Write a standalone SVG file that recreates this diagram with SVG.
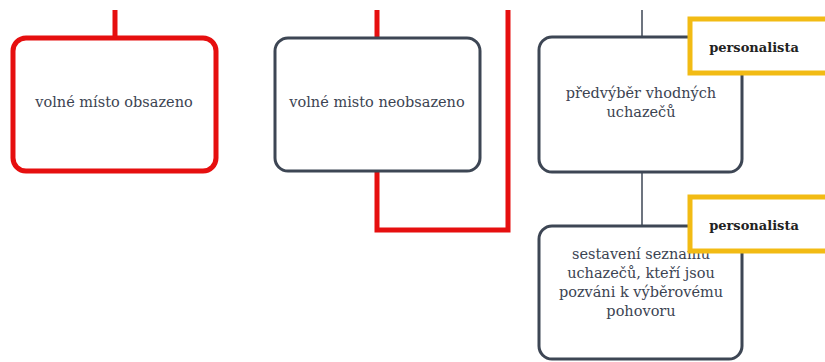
<svg xmlns="http://www.w3.org/2000/svg" width="825" height="362" viewBox="0 0 825 362">
<style>
.node{fill:#fff;stroke:#3d4654;stroke-width:3}
.red{fill:#fff;stroke:#e60f0f;stroke-width:5}
.t{font-family:"DejaVu Serif","Liberation Serif",serif;font-size:14.5px;fill:#3c4452;text-anchor:middle}
.lab{fill:#fff;stroke:#f2bb14;stroke-width:5}
.lt{font-family:"DejaVu Serif","Liberation Serif",serif;font-size:13px;font-weight:bold;fill:#222;text-anchor:middle}
.rl{fill:none;stroke:#e60f0f;stroke-width:5}
.gl{fill:none;stroke:#3d4654;stroke-width:1.5}
</style>
<rect width="825" height="362" fill="#fff"/>
<g id="connectors">
<line class="rl" x1="115" y1="10" x2="115" y2="38"/>
<line class="rl" x1="377" y1="10" x2="377" y2="38"/>
<polyline class="rl" points="377,172 377,230 508,230 508,10"/>
<line class="gl" x1="642" y1="10" x2="642" y2="38"/>
<line class="gl" x1="642" y1="172" x2="642" y2="226"/>
</g>
<g id="n1">
<rect class="red" x="13" y="38" width="203" height="133" rx="13"/>
<text class="t" x="114" y="107">volné místo obsazeno</text>
</g>
<g id="n2">
<rect class="node" x="275" y="38" width="205" height="133" rx="13"/>
<text class="t" x="377" y="107">volné misto neobsazeno</text>
</g>
<g id="n3">
<rect class="node" x="539" y="37" width="203" height="135" rx="13"/>
<text class="t" x="641" y="98">předvýběr vhodných</text>
<text class="t" x="641" y="117">uchazečů</text>
</g>
<g id="lab1">
<rect class="lab" x="690" y="19" width="140" height="54"/>
<text class="lt" x="754" y="52">personalista</text>
</g>
<g id="n4">
<rect class="node" x="539" y="226" width="203" height="133" rx="13"/>
<text class="t" x="641" y="259">sestavení seznamu</text>
<text class="t" x="641" y="278">uchazečů, kteří jsou</text>
<text class="t" x="641" y="297">pozváni k výběrovému</text>
<text class="t" x="641" y="316">pohovoru</text>
</g>
<g id="lab2">
<rect class="lab" x="690" y="197" width="140" height="54"/>
<text class="lt" x="754" y="230">personalista</text>
</g>
</svg>
